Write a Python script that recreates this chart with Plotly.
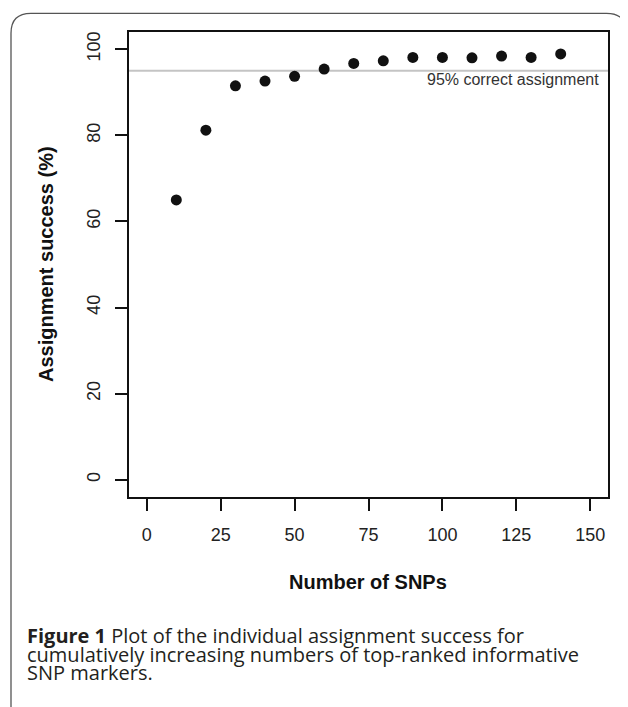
import plotly.graph_objects as go

# ---- data ----
n_snps = [10, 20, 30, 40, 50, 60, 70, 80, 90, 100, 110, 120, 130, 140]
success = [65.0, 81.2, 91.5, 92.6, 93.7, 95.4, 96.7, 97.3, 98.1, 98.1, 98.0, 98.4, 98.1, 98.9]
x_ticks = [0, 25, 50, 75, 100, 125, 150]
y_ticks = [0, 20, 40, 60, 80, 100]
threshold = 95
threshold_label = "95% correct assignment"
x_title = "Number of SNPs"
y_title = "Assignment success (%)"
caption_lines = [
    "<b>Figure 1</b> Plot of the individual assignment success for",
    "cumulatively increasing numbers of top-ranked informative",
    "SNP markers.",
]

# page body has an 8px margin, so the figure is drawn 8px smaller and targets are offset
OFF = 8
W, H = 620, 699
ML, MR, MT, MB = 121, 20, 24, 210
PW, PH = W - ML - MR, H - MT - MB


def px(x):
    """screen x (reference picture) -> paper x"""
    return (x - OFF - ML) / PW


def py(y):
    """screen y (reference picture) -> paper y"""
    return 1 - (y - OFF - MT) / PH


fig = go.Figure()
fig.add_trace(go.Scatter(
    x=n_snps, y=success, mode="markers",
    marker=dict(color="#111111", size=11, line=dict(width=0)),
    showlegend=False, hoverinfo="x+y",
))

FONT = "Liberation Sans, Arial, sans-serif"

fig.update_layout(
    width=W, height=H,
    margin=dict(l=ML, r=MR, t=MT, b=MB),
    paper_bgcolor="white", plot_bgcolor="white",
    font=dict(family=FONT, size=18, color="#222222"),
    xaxis=dict(
        range=[-6, 156], tickvals=x_ticks, ticktext=[str(v) for v in x_ticks],
        showgrid=False, zeroline=False, showline=True, mirror=True,
        linecolor="#111111", linewidth=1.6,
        ticks="outside", ticklen=12, tickwidth=1.5, tickcolor="#111111",
        ticklabelstandoff=9,
        tickfont=dict(family=FONT, size=18, color="#222222"),
    ),
    yaxis=dict(
        range=[-4, 104], tickvals=y_ticks, ticktext=[str(v) for v in y_ticks],
        showgrid=False, zeroline=False, showline=True, mirror=True,
        linecolor="#111111", linewidth=1.6,
        ticks="outside", ticklen=12, tickwidth=1.5, tickcolor="#111111",
        tickangle=-90, ticklabelstandoff=8,
        tickfont=dict(family=FONT, size=18, color="#222222"),
    ),
)

# threshold line
fig.add_shape(type="line", xref="paper", yref="y", x0=0, x1=1, y0=threshold, y1=threshold,
              line=dict(color="#c4c4c4", width=2.2), layer="below")
fig.add_annotation(x=px(601), xref="paper", y=threshold, yref="y", yanchor="middle", xanchor="right",
                   yshift=-9, text=threshold_label, showarrow=False,
                   font=dict(family=FONT, size=16, color="#333333"))

# axis titles
fig.add_annotation(x=px(368), y=py(582), xref="paper", yref="paper", xanchor="center", yanchor="middle",
                   text="<b>" + x_title + "</b>", showarrow=False,
                   font=dict(family=FONT, size=20, color="#111111"))
fig.add_annotation(x=px(46), y=py(264), xref="paper", yref="paper", xanchor="center", yanchor="middle",
                   text="<b>" + y_title + "</b>", showarrow=False, textangle=-90,
                   font=dict(family=FONT, size=20, color="#111111"))

# caption
CAP_FONT = "Open Sans, Noto Sans, sans-serif"
cap_y = [635.5, 654.2, 672.9]
for line, yy in zip(caption_lines, cap_y):
    fig.add_annotation(x=px(25), y=py(yy), xref="paper", yref="paper",
                       xanchor="left", yanchor="middle", text=line, showarrow=False,
                       font=dict(family=CAP_FONT, size=20, color="#231f20"))

# rounded frame
x0, y0, x1, y1, r = 11, 13.3, 626.5, 712, 20
path = (f"M {px(x0)},{py(y1)} L {px(x0)},{py(y0 + r)} "
        f"Q {px(x0)},{py(y0)} {px(x0 + r)},{py(y0)} "
        f"L {px(x1 - r)},{py(y0)} Q {px(x1)},{py(y0)} {px(x1)},{py(y0 + r)}")
fig.add_shape(type="path", xref="paper", yref="paper", path=path,
              line=dict(color="#555555", width=1.3))

fig.write_html("out.html")
